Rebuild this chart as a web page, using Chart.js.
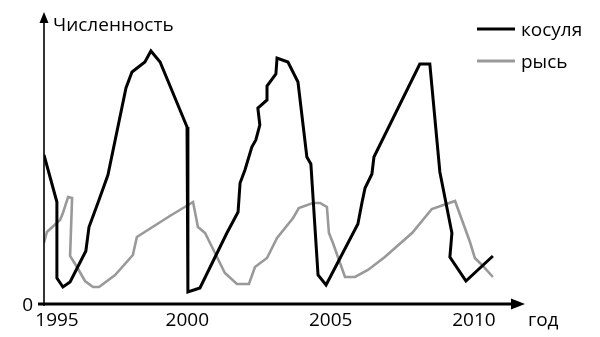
<!DOCTYPE html>
<html>
<head>
<meta charset="utf-8">
<script src="https://cdn.jsdelivr.net/npm/chart.js@4/dist/chart.umd.min.js"></script>
<style>
  html, body { margin: 0; padding: 0; background: #fff; }
  #wrap { width: 600px; height: 337px; }
</style>
</head>
<body>
<div id="wrap"><canvas id="popChart" width="600" height="337"></canvas></div>
<script>
// косуля (roe deer)
const roeYears = [1995.00, 1995.45, 1995.45, 1995.66, 1995.91, 1996.46, 1996.57, 1996.88, 1997.23, 1997.86,
    1998.07, 1998.52, 1998.73, 1999.05, 1999.99, 2000.02, 2000.44, 2001.38, 2001.77, 2001.84,
    2002.01, 2002.25, 2002.39, 2002.53, 2002.46, 2002.78, 2002.78, 2003.09, 2003.13, 2003.51,
    2003.86, 2004.17, 2004.31, 2004.56, 2004.84, 2005.95, 2006.09, 2006.20, 2006.44, 2006.51,
    2008.11, 2008.46, 2008.81, 2009.23, 2009.16, 2009.72, 2010.66];
const roeValues = [59.6, 40.8, 10.4, 6.8, 8.8, 21.2, 30.8, 40.4, 51.6, 86.4,
    92.8, 96.8, 101.2, 96.8, 70.8, 4.8, 6.4, 28.4, 36.8, 48.4,
    53.6, 62.8, 65.6, 71.6, 78.4, 81.6, 87.2, 92.0, 98.4, 96.8,
    88.8, 58.8, 56.0, 11.6, 7.6, 32.0, 40.4, 46.4, 52.0, 58.8,
    96.0, 96.0, 52.8, 28.4, 18.8, 9.2, 19.2];

// рысь (lynx)
const lynxYears = [1995.00, 1995.10, 1995.56, 1995.66, 1995.84, 1995.98, 1995.91, 1996.15, 1996.43, 1996.71,
    1996.92, 1997.48, 1998.10, 1998.24, 1999.39, 2000.20, 2000.37, 2000.62, 2001.31, 2001.73,
    2002.15, 2002.36, 2002.78, 2003.13, 2003.69, 2003.89, 2004.38, 2004.63, 2004.87, 2004.94,
    2005.08, 2005.50, 2005.85, 2006.30, 2006.89, 2007.84, 2008.53, 2009.34, 2009.86, 2010.03,
    2010.28, 2010.66];
const lynxValues = [24.4, 28.8, 33.6, 36.4, 42.8, 42.4, 19.2, 14.8, 9.2, 6.8,
    6.8, 11.6, 19.6, 26.8, 35.2, 40.8, 30.8, 28.4, 12.4, 8.0,
    8.0, 14.8, 18.4, 26.4, 34.4, 38.4, 40.4, 40.4, 38.8, 28.4,
    24.4, 10.8, 10.8, 13.6, 18.8, 28.4, 38.0, 41.2, 24.8, 18.4,
    15.6, 10.8];

const xTicks = [1995, 2000, 2005, 2010];
const seriesNames = ['косуля', 'рысь'];
const seriesColors = ['#000000', '#999999'];

const FONT = '19px "Open Sans", "DejaVu Sans", sans-serif';

function toPoints(xs, ys) {
    return xs.map((x, i) => ({ x: x, y: ys[i] }));
}

// axes with arrows, tick labels and the legend drawn on top of the plot
const axesPlugin = {
    id: 'arrowAxes',
    afterDraw(chart) {
        const ctx = chart.ctx;
        const area = chart.chartArea;
        const xs = chart.scales.x;
        const ys = chart.scales.y;
        const x0 = xs.getPixelForValue(1995);
        const y0 = ys.getPixelForValue(0);

        ctx.save();
        ctx.strokeStyle = '#000';
        ctx.fillStyle = '#000';

        // y axis
        ctx.lineWidth = 1.6;
        ctx.beginPath();
        ctx.moveTo(x0, y0 + 2);
        ctx.lineTo(x0, area.top + 8);
        ctx.stroke();
        ctx.beginPath();
        ctx.moveTo(x0, area.top);
        ctx.lineTo(x0 - 4.5, area.top + 11);
        ctx.lineTo(x0 + 4.5, area.top + 11);
        ctx.closePath();
        ctx.fill();

        // x axis
        ctx.lineWidth = 3;
        ctx.beginPath();
        ctx.moveTo(x0 - 6, y0);
        ctx.lineTo(area.right - 10, y0);
        ctx.stroke();
        ctx.beginPath();
        ctx.moveTo(area.right, y0);
        ctx.lineTo(area.right - 14, y0 - 5.5);
        ctx.lineTo(area.right - 14, y0 + 5.5);
        ctx.closePath();
        ctx.fill();

        ctx.font = FONT;
        ctx.textBaseline = 'alphabetic';

        // tick labels
        ctx.textAlign = 'center';
        xTicks.forEach((t, i) => {
            const px = xs.getPixelForValue(t) + (i === 0 ? 13 : 0);
            ctx.fillText(String(t), px, y0 + 22);
        });
        ctx.textAlign = 'right';
        ctx.fillText('0', x0 - 11, y0 + 7);

        // axis titles
        ctx.textAlign = 'left';
        ctx.fillText('Численность', x0 + 9, 31);
        ctx.fillText('год', area.right + 3, y0 + 22);

        // legend
        seriesNames.forEach((name, i) => {
            const ly = 29 + i * 32;
            ctx.strokeStyle = seriesColors[i];
            ctx.lineWidth = 3;
            ctx.beginPath();
            ctx.moveTo(477, ly);
            ctx.lineTo(515, ly);
            ctx.stroke();
            ctx.fillStyle = '#000';
            ctx.fillText(name, 521, ly + 7);
        });

        ctx.restore();
    }
};

new Chart(document.getElementById('popChart'), {
    type: 'scatter',
    data: {
        datasets: [
            {
                label: seriesNames[0],
                data: toPoints(roeYears, roeValues),
                showLine: true,
                borderColor: seriesColors[0],
                borderWidth: 3,
                pointRadius: 0,
                tension: 0
            },
            {
                label: seriesNames[1],
                data: toPoints(lynxYears, lynxValues),
                showLine: true,
                borderColor: seriesColors[1],
                borderWidth: 2.6,
                pointRadius: 0,
                tension: 0
            }
        ]
    },
    options: {
        responsive: false,
        animation: false,
        layout: { padding: { left: 44, top: 12, right: 75, bottom: 33 } },
        scales: {
            x: { type: 'linear', min: 1995, max: 2011.78, display: false },
            y: { type: 'linear', min: 0, max: 116.8, display: false }
        },
        plugins: {
            legend: { display: false },
            tooltip: { enabled: false }
        }
    },
    plugins: [axesPlugin]
});
</script>
</body>
</html>
